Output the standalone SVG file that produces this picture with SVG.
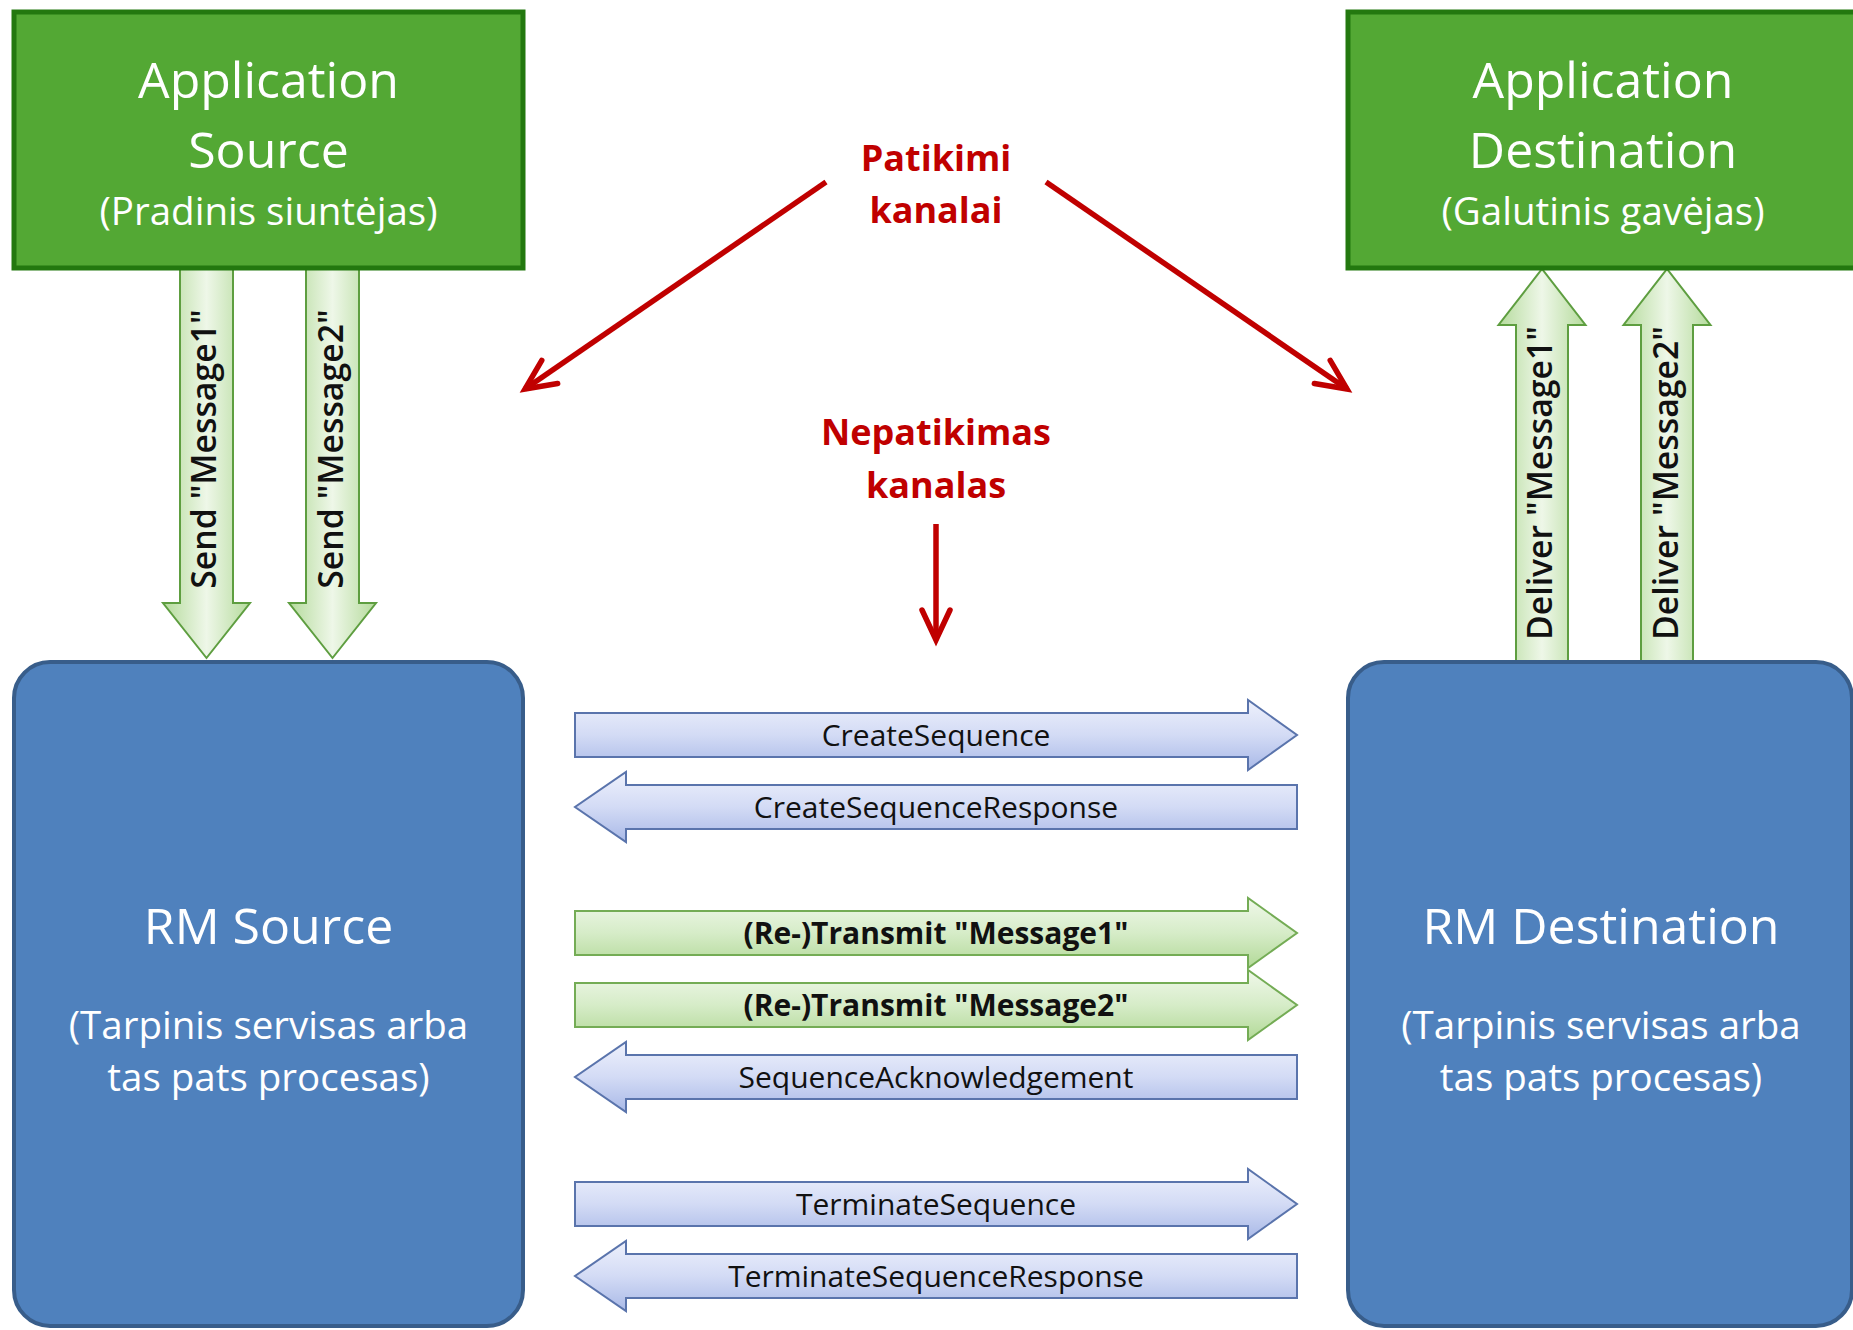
<svg xmlns="http://www.w3.org/2000/svg" width="1853" height="1330" viewBox="0 0 1853 1330">
<style>
text { font-family: "Open Sans", "Liberation Sans", sans-serif; }
.box-app { fill: #53A834; stroke: #23780F; stroke-width: 5; }
.box-rm { fill: #4F81BD; stroke: #385D8A; stroke-width: 4; }
.tw { fill: #FFFFFF; text-anchor: middle; }
.title { font-size: 50px; }
.sub { font-size: 38.5px; }
.red { fill: #C00000; font-weight: bold; font-size: 36px; text-anchor: middle; }
.red-line { stroke: #C00000; stroke-width: 5.5; fill: none; }
.blk-blue { fill: url(#gBlue); stroke: #5A74AC; stroke-width: 2; }
.blk-green-h { fill: url(#gGreenH); stroke: #74AC55; stroke-width: 2; }
.blk-green-v { fill: url(#gGreenV); stroke: #5E9E40; stroke-width: 2; }
.lbl { font-size: 30px; fill: #111111; text-anchor: middle; }
.lbl-b { font-weight: bold; }
.vlbl { font-size: 33.8px; font-weight: 600; fill: #111111; text-anchor: middle; }
</style>
<defs>
<linearGradient id="gBlue" x1="0" y1="0" x2="0" y2="1">
<stop offset="0" stop-color="#EEF1FC"/>
<stop offset="0.5" stop-color="#D3DBF5"/>
<stop offset="1" stop-color="#A9B9E7"/>
</linearGradient>
<linearGradient id="gGreenH" x1="0" y1="0" x2="0" y2="1">
<stop offset="0" stop-color="#F0F8EA"/>
<stop offset="0.5" stop-color="#D6ECC8"/>
<stop offset="1" stop-color="#B2D997"/>
</linearGradient>
<linearGradient id="gGreenV" x1="0" y1="0" x2="1" y2="0">
<stop offset="0" stop-color="#B5DB9C"/>
<stop offset="0.5" stop-color="#EEF7E8"/>
<stop offset="1" stop-color="#B5DB9C"/>
</linearGradient>
<marker id="openHead" markerUnits="userSpaceOnUse" viewBox="-40 -20 44 40" markerWidth="44" markerHeight="40" refX="0" refY="0" orient="auto" overflow="visible">
<path d="M-30,-14 L0,0 L-30,14" fill="none" stroke="#C00000" stroke-width="5.5" stroke-linejoin="miter" stroke-linecap="round"/>
</marker>
</defs>
<rect width="1853" height="1330" fill="#FFFFFF"/>

<g id="connectors">
<g id="send-message1">
<path class="blk-green-v" d="M180,268 V603 H163 L206.5,658 L250,603 H233 V268 Z"/>
<text class="vlbl" transform="translate(216,449) rotate(-90)">Send "Message1"</text>
</g>
<g id="send-message2">
<path class="blk-green-v" d="M306,268 V603 H289 L332.5,658 L376,603 H359 V268 Z"/>
<text class="vlbl" transform="translate(343,449) rotate(-90)">Send "Message2"</text>
</g>
<g id="deliver-message1">
<path class="blk-green-v" d="M1516,662 V325 H1498.5 L1542,269 L1585.5,325 H1568 V662 Z"/>
<text class="vlbl" transform="translate(1552,483) rotate(-90)">Deliver "Message1"</text>
</g>
<g id="deliver-message2">
<path class="blk-green-v" d="M1641,662 V325 H1623.5 L1667,269 L1710.5,325 H1693 V662 Z"/>
<text class="vlbl" transform="translate(1678,483) rotate(-90)">Deliver "Message2"</text>
</g>

<g id="create-sequence">
<path class="blk-blue" d="M575,713 H1248 V700 L1297,735 L1248,770 V757 H575 Z"/>
<text class="lbl" x="936" y="746">CreateSequence</text>
</g>
<g id="create-sequence-response">
<path class="blk-blue" d="M1297,785 H626 V772 L575,807 L626,842 V829 H1297 Z"/>
<text class="lbl" x="936" y="818">CreateSequenceResponse</text>
</g>
<g id="transmit-message1">
<path class="blk-green-h" d="M575,911 H1248 V898 L1297,933 L1248,968 V955 H575 Z"/>
<text class="lbl lbl-b" x="936" y="944">(Re-)Transmit "Message1"</text>
</g>
<g id="transmit-message2">
<path class="blk-green-h" d="M575,983 H1248 V970 L1297,1005 L1248,1040 V1027 H575 Z"/>
<text class="lbl lbl-b" x="936" y="1016">(Re-)Transmit "Message2"</text>
</g>
<g id="sequence-ack">
<path class="blk-blue" d="M1297,1055 H626 V1042 L575,1077 L626,1112 V1099 H1297 Z"/>
<text class="lbl" x="936" y="1088">SequenceAcknowledgement</text>
</g>
<g id="terminate-sequence">
<path class="blk-blue" d="M575,1182 H1248 V1169 L1297,1204 L1248,1239 V1226 H575 Z"/>
<text class="lbl" x="936" y="1215">TerminateSequence</text>
</g>
<g id="terminate-sequence-response">
<path class="blk-blue" d="M1297,1254 H626 V1241 L575,1276 L626,1311 V1298 H1297 Z"/>
<text class="lbl" x="936" y="1287">TerminateSequenceResponse</text>
</g>

<g id="reliable-arrows">
<line class="red-line" x1="826" y1="182" x2="525" y2="389" marker-end="url(#openHead)"/>
<line class="red-line" x1="1046" y1="182" x2="1347" y2="389" marker-end="url(#openHead)"/>
</g>
<g id="unreliable-arrow">
<line class="red-line" x1="936" y1="524" x2="936" y2="640" marker-end="url(#openHead)"/>
</g>
</g>

<g id="app-source">
<rect class="box-app" x="14" y="12" width="509" height="256"/>
<text class="tw title" x="268.5" y="98">Application</text>
<text class="tw title" x="268.5" y="168">Source</text>
<text class="tw sub" x="268.5" y="225">(Pradinis siuntėjas)</text>
</g>
<g id="app-destination">
<rect class="box-app" x="1348" y="12" width="512" height="256"/>
<text class="tw title" x="1603" y="98">Application</text>
<text class="tw title" x="1603" y="168">Destination</text>
<text class="tw sub" x="1603" y="225">(Galutinis gavėjas)</text>
</g>
<g id="rm-source">
<rect class="box-rm" x="14" y="662" width="509" height="664" rx="36" ry="36"/>
<text class="tw title" x="268.5" y="944">RM Source</text>
<text class="tw sub" x="268.5" y="1039">(Tarpinis servisas arba</text>
<text class="tw sub" x="268.5" y="1091">tas pats procesas)</text>
</g>
<g id="rm-destination">
<rect class="box-rm" x="1348" y="662" width="504" height="664" rx="36" ry="36"/>
<text class="tw title" x="1601" y="944">RM Destination</text>
<text class="tw sub" x="1601" y="1039">(Tarpinis servisas arba</text>
<text class="tw sub" x="1601" y="1091">tas pats procesas)</text>
</g>

<g id="label-reliable">
<text class="red" x="936" y="171">Patikimi</text>
<text class="red" x="936" y="223">kanalai</text>
</g>
<g id="label-unreliable">
<text class="red" x="936" y="445">Nepatikimas</text>
<text class="red" x="936" y="498">kanalas</text>
</g>
</svg>
